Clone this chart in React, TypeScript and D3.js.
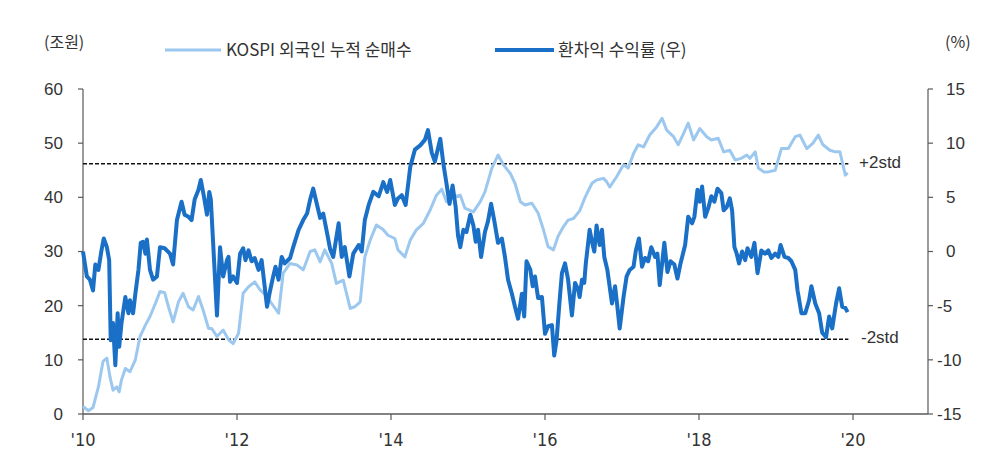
import React from 'react';
import * as d3 from 'd3';

// KOSPI 외국인 누적 순매수 (조원, left axis)
const kospiDates = [
  2010.0, 2010.07, 2010.13, 2010.2, 2010.26, 2010.31, 2010.35, 2010.39, 2010.44, 2010.47,
  2010.5, 2010.55, 2010.61, 2010.68, 2010.74, 2010.81, 2010.87, 2010.94, 2011.0, 2011.06,
  2011.11, 2011.17, 2011.24, 2011.3, 2011.37, 2011.43, 2011.5, 2011.56, 2011.63, 2011.67,
  2011.74, 2011.82, 2011.89, 2011.95, 2012.02, 2012.08, 2012.15, 2012.23, 2012.3, 2012.39,
  2012.45, 2012.54, 2012.6, 2012.69, 2012.78, 2012.86, 2012.95, 2013.01, 2013.08, 2013.14,
  2013.23, 2013.29, 2013.38, 2013.47, 2013.53, 2013.6, 2013.66, 2013.73, 2013.81, 2013.9,
  2013.96, 2014.05, 2014.09, 2014.18, 2014.25, 2014.33, 2014.42, 2014.51, 2014.59, 2014.66,
  2014.72, 2014.81, 2014.9, 2014.96, 2015.07, 2015.16, 2015.22, 2015.31, 2015.39, 2015.46,
  2015.55, 2015.61, 2015.68, 2015.74, 2015.83, 2015.91, 2015.98, 2016.04, 2016.11, 2016.17,
  2016.24, 2016.3, 2016.37, 2016.45, 2016.52, 2016.61, 2016.67, 2016.76, 2016.8, 2016.84,
  2016.93, 2017.02, 2017.08, 2017.15, 2017.21, 2017.28, 2017.36, 2017.45, 2017.52, 2017.58,
  2017.67, 2017.73, 2017.8, 2017.86, 2017.93, 2018.01, 2018.1, 2018.16, 2018.25, 2018.32,
  2018.4, 2018.47, 2018.55, 2018.62, 2018.66, 2018.73, 2018.77, 2018.84, 2018.9, 2018.99,
  2019.07, 2019.16, 2019.25, 2019.31, 2019.4, 2019.48, 2019.55, 2019.61, 2019.7, 2019.77,
  2019.83, 2019.9, 2019.93,
];
const kospiValues = [
  1.4, 0.6, 1.2, 5.0, 9.7, 10.3, 6.9, 4.4, 5.0, 4.1,
  6.3, 8.4, 7.8, 10.0, 14.3, 16.4, 18.0, 20.4, 22.6, 22.4,
  19.8, 17.0, 20.7, 22.3, 19.8, 19.2, 21.7, 19.2, 15.8, 15.8,
  14.3, 15.5, 13.7, 13.0, 14.9, 22.3, 23.5, 24.4, 22.9, 21.7,
  20.4, 18.6, 26.0, 27.8, 27.5, 26.6, 30.0, 30.3, 28.1, 30.3,
  27.8, 24.1, 24.7, 19.5, 19.8, 20.7, 29.0, 32.1, 34.9, 34.0,
  33.0, 32.4, 30.3, 29.0, 32.1, 34.0, 35.2, 37.7, 40.4, 41.5,
  39.2, 40.1, 40.4, 38.0, 37.3, 39.2, 41.0, 45.4, 47.8, 46.0,
  44.4, 42.6, 39.2, 38.6, 38.9, 37.1, 34.0, 30.9, 30.3, 32.8,
  34.6, 35.8, 36.1, 37.5, 40.0, 42.6, 43.2, 43.5, 42.9, 41.9,
  43.8, 46.0, 45.4, 48.1, 49.7, 49.3, 51.5, 53.0, 54.6, 52.4,
  51.2, 49.7, 51.8, 53.7, 50.6, 52.7, 51.2, 50.6, 50.9, 48.4,
  48.7, 46.9, 47.2, 47.8, 47.2, 48.4, 45.4, 44.7, 44.7, 45.0,
  49.0, 49.0, 51.2, 51.5, 49.0, 50.0, 51.5, 49.7, 48.7, 48.4,
  48.4, 44.1, 44.5,
];

// 환차익 수익률 (%, right axis)
const fxDates = [
  2010.0, 2010.05, 2010.09, 2010.13, 2010.16, 2010.2, 2010.24, 2010.27, 2010.31, 2010.34,
  2010.36, 2010.39, 2010.42, 2010.45, 2010.47, 2010.5, 2010.55, 2010.59, 2010.61, 2010.65,
  2010.68, 2010.72, 2010.75, 2010.78, 2010.81, 2010.83, 2010.87, 2010.91, 2010.96, 2011.0,
  2011.06, 2011.13, 2011.17, 2011.22, 2011.28, 2011.32, 2011.37, 2011.41, 2011.45, 2011.5,
  2011.53, 2011.57, 2011.61, 2011.64, 2011.66, 2011.69, 2011.74, 2011.78, 2011.82, 2011.87,
  2011.89, 2011.91, 2011.95, 2012.0, 2012.04, 2012.08, 2012.11, 2012.15, 2012.19, 2012.23,
  2012.28, 2012.32, 2012.39, 2012.43, 2012.47, 2012.5, 2012.54, 2012.58, 2012.62, 2012.69,
  2012.73, 2012.8, 2012.86, 2012.91, 2012.95, 2012.99, 2013.04, 2013.08, 2013.12, 2013.17,
  2013.21, 2013.25, 2013.32, 2013.36, 2013.4, 2013.46, 2013.51, 2013.58, 2013.62, 2013.66,
  2013.71, 2013.77, 2013.84, 2013.9, 2013.95, 2013.99, 2014.05, 2014.09, 2014.14, 2014.19,
  2014.25, 2014.31, 2014.38, 2014.44, 2014.48, 2014.53, 2014.57, 2014.64, 2014.68, 2014.72,
  2014.76, 2014.8, 2014.84, 2014.87, 2014.9, 2014.94, 2014.98, 2015.03, 2015.07, 2015.1,
  2015.13, 2015.17, 2015.22, 2015.26, 2015.3, 2015.34, 2015.39, 2015.44, 2015.48, 2015.52,
  2015.57, 2015.61, 2015.65, 2015.7, 2015.73, 2015.76, 2015.81, 2015.84, 2015.87, 2015.91,
  2015.96, 2016.0, 2016.04, 2016.09, 2016.12, 2016.15, 2016.19, 2016.22, 2016.26, 2016.3,
  2016.35, 2016.39, 2016.43, 2016.45, 2016.48, 2016.51, 2016.53, 2016.58, 2016.61, 2016.64,
  2016.67, 2016.71, 2016.74, 2016.77, 2016.81, 2016.87, 2016.91, 2016.94, 2016.97, 2017.02,
  2017.06, 2017.1, 2017.15, 2017.18, 2017.22, 2017.26, 2017.3, 2017.34, 2017.38, 2017.43,
  2017.46, 2017.49, 2017.55, 2017.59, 2017.63, 2017.68, 2017.72, 2017.76, 2017.82, 2017.86,
  2017.91, 2017.94, 2017.98, 2018.01, 2018.04, 2018.08, 2018.12, 2018.16, 2018.2, 2018.24,
  2018.29, 2018.32, 2018.36, 2018.4, 2018.43, 2018.46, 2018.49, 2018.52, 2018.56, 2018.6,
  2018.63, 2018.68, 2018.72, 2018.76, 2018.81, 2018.86, 2018.9, 2018.94, 2018.99, 2019.03,
  2019.06, 2019.11, 2019.16, 2019.2, 2019.25, 2019.28, 2019.33, 2019.38, 2019.43, 2019.46,
  2019.51, 2019.56, 2019.6, 2019.65, 2019.69, 2019.73, 2019.78, 2019.82, 2019.86, 2019.9,
  2019.93,
];
const fxValues = [
  0.0, -2.3, -2.6, -3.6, -1.2, -1.7, 0.1, 1.2, 0.4, -0.8,
  -8.2, -6.6, -10.5, -5.7, -8.8, -6.6, -4.2, -5.7, -4.5, -5.7,
  -3.9, -1.7, 0.8, 0.9, -0.2, 1.1, -1.7, -2.6, -2.3, 0.4,
  0.3, -0.2, -1.2, 2.9, 4.6, 3.4, 3.2, 2.9, 4.8, 5.7,
  6.6, 5.1, 3.4, 5.5, 4.8, 0.8, -5.9, 0.4, -2.3, -0.8,
  -0.5, -2.8, -2.3, -2.9, -0.2, 0.3, -0.8, 0.1, -0.9, -0.6,
  -1.7, -0.8, -5.1, -3.6, -2.3, -1.4, -2.6, -0.5, -1.1, -0.6,
  0.4, 2.0, 2.9, 3.5, 4.8, 5.8, 4.3, 3.1, 3.5, 1.7,
  0.2, -0.5, 2.6, -0.5, 0.4, -2.3, -0.2, 0.6, 0.0, 2.9,
  4.3, 5.5, 5.1, 6.4, 5.5, 6.6, 4.3, 4.9, 5.2, 4.3,
  7.8, 9.4, 9.8, 10.3, 11.2, 9.1, 8.3, 10.4, 8.1, 6.3,
  4.4, 6.1, 4.1, 1.5, 0.4, 2.0, 1.8, 3.4, 2.4, 0.9,
  2.0, -0.5, 1.8, 2.8, 4.4, 2.9, 0.8, 1.2, -0.5, -2.6,
  -3.9, -5.1, -6.2, -3.9, -6.0, -0.9, -1.7, -3.2, -2.3, -4.3,
  -4.2, -7.6, -6.9, -6.8, -9.6, -8.2, -4.5, -2.0, -1.1, -2.6,
  -5.9, -2.9, -3.5, -4.2, -2.6, -2.9, -1.1, 2.0, 0.9, 0.0,
  2.4, 0.6, 2.0, -0.5, -1.7, -4.8, -3.2, -5.1, -7.1, -4.2,
  -2.3, -1.7, -1.4, 0.1, 1.2, -1.4, -0.6, -0.9, 0.4, -0.5,
  -0.2, -3.1, 0.8, -1.9, -0.9, -1.2, -2.5, -1.1, 0.6, 3.2,
  2.6, 3.2, 5.7, 4.6, 6.0, 3.2, 4.0, 5.1, 4.6, 5.8,
  5.4, 3.8, 4.1, 4.9, 3.8, 0.4, -0.2, -1.1, 0.0, -0.8,
  0.3, -0.5, 0.8, -2.0, 0.1, -0.2, 0.1, -0.6, -0.2, -0.5,
  0.6, -0.5, -0.6, -0.9, -1.7, -3.6, -5.7, -5.7, -4.5, -3.2,
  -4.8, -5.7, -7.5, -7.9, -6.0, -7.1, -4.8, -3.4, -5.1, -5.2,
  -5.6,
];

const leftTicks = [0, 10, 20, 30, 40, 50, 60];
const rightTicks = [-15, -10, -5, 0, 5, 10, 15];
const yearTicks = [2010, 2012, 2014, 2016, 2018, 2020];
const stdBands = [
  { label: '+2std', value: 8.1 },
  { label: '-2std', value: -8.1 },
];

const LIGHT = '#9cc8f0';
const DARK = '#1a6fc6';
const AXIS = '#595959';
const TEXT = '#333';
const NUM_FONT = '"Liberation Sans", Arial, sans-serif';
const NARROW_FONT = '"Liberation Sans Narrow", "Arial Narrow", "DejaVu Sans Condensed", sans-serif';
const KR_FONT = '"Noto Sans CJK KR", "Noto Sans", sans-serif';

export default function App() {
  const width = 1000;
  const height = 464;
  const plot = { left: 83, right: 928, top: 89, bottom: 414 };

  const x = d3.scaleLinear().domain([2010, 2021]).range([plot.left, plot.right + 2]);
  const yL = d3.scaleLinear().domain([0, 60]).range([plot.bottom, plot.top]);
  const yR = d3.scaleLinear().domain([-15, 15]).range([plot.bottom, plot.top]);

  const kospiPath = d3.line<number>()
    .x((_, i) => x(kospiDates[i]))
    .y(d => yL(d))(kospiValues) || '';
  const fxPath = d3.line<number>()
    .x((_, i) => x(fxDates[i]))
    .y(d => yR(d))(fxValues) || '';

  const stdEnd = x(2019.94);

  return (
    <div style={{ position: 'absolute', left: 0, top: 0 }}>
      <svg width={width} height={height} style={{ display: 'block', background: '#fff' }}>
        {/* legend */}
        <text x={44} y={48} fontFamily={KR_FONT} fontSize={16} fill={TEXT}>(조원)</text>
        <text x={945} y={48} fontFamily={KR_FONT} fontSize={16} fill={TEXT}>(%)</text>
        <line x1={165} x2={221} y1={50} y2={50} stroke={LIGHT} strokeWidth={3} />
        <text x={226} y={56} fontFamily={KR_FONT} fontSize={17} fill={TEXT}>KOSPI 외국인 누적 순매수</text>
        <line x1={495} x2={554} y1={50} y2={50} stroke={DARK} strokeWidth={4} />
        <text x={558} y={56} fontFamily={KR_FONT} fontSize={17} fill={TEXT}>환차익 수익률 (우)</text>

        {/* left axis */}
        <line x1={plot.left} x2={plot.left} y1={plot.top} y2={plot.bottom} stroke={AXIS} strokeWidth={1.2} />
        {leftTicks.map(t => (
          <g key={`l${t}`}>
            <line x1={plot.left - 5} x2={plot.left} y1={yL(t)} y2={yL(t)} stroke={AXIS} strokeWidth={1.2} />
            <text x={63} y={yL(t)} dy="0.35em" textAnchor="end" fontFamily={NUM_FONT} fontSize={17} fill={TEXT}>{t}</text>
          </g>
        ))}

        {/* right axis */}
        <line x1={plot.right} x2={plot.right} y1={plot.top} y2={plot.bottom} stroke={AXIS} strokeWidth={1.2} />
        {rightTicks.map(t => (
          <g key={`r${t}`}>
            <line x1={plot.right} x2={plot.right + 5} y1={yR(t)} y2={yR(t)} stroke={AXIS} strokeWidth={1.2} />
            <text x={t < 0 ? 937 : 946} y={yR(t)} dy="0.35em" fontFamily={NUM_FONT} fontSize={17} fill={TEXT}>{t}</text>
          </g>
        ))}

        {/* x axis */}
        <line x1={plot.left} x2={plot.right} y1={plot.bottom} y2={plot.bottom} stroke={AXIS} strokeWidth={1.5} />
        {yearTicks.map(t => (
          <g key={`x${t}`}>
            <line x1={x(t)} x2={x(t)} y1={plot.bottom} y2={plot.bottom + 6} stroke={AXIS} strokeWidth={1.2} />
            <text x={x(t)} y={446} textAnchor="middle" fontFamily={NARROW_FONT} fontSize={18} fill={TEXT}>
              {`'${String(t).slice(2)}`}
            </text>
          </g>
        ))}

        {/* ±2 std lines */}
        {stdBands.map(s => (
          <g key={s.label}>
            <line x1={plot.left} x2={stdEnd} y1={yR(s.value)} y2={yR(s.value)}
              stroke="#111" strokeWidth={1.4} strokeDasharray="4,2" />
            <text x={s.value > 0 ? 859 : 861} y={yR(s.value) - 2} dy="0.35em" fontFamily={NUM_FONT} fontSize={17} fill={TEXT}>
              {s.label}
            </text>
          </g>
        ))}

        {/* series */}
        <path d={kospiPath} fill="none" stroke={LIGHT} strokeWidth={3} strokeLinejoin="round" />
        <path d={fxPath} fill="none" stroke={DARK} strokeWidth={4} strokeLinejoin="round" />
      </svg>
    </div>
  );
}
